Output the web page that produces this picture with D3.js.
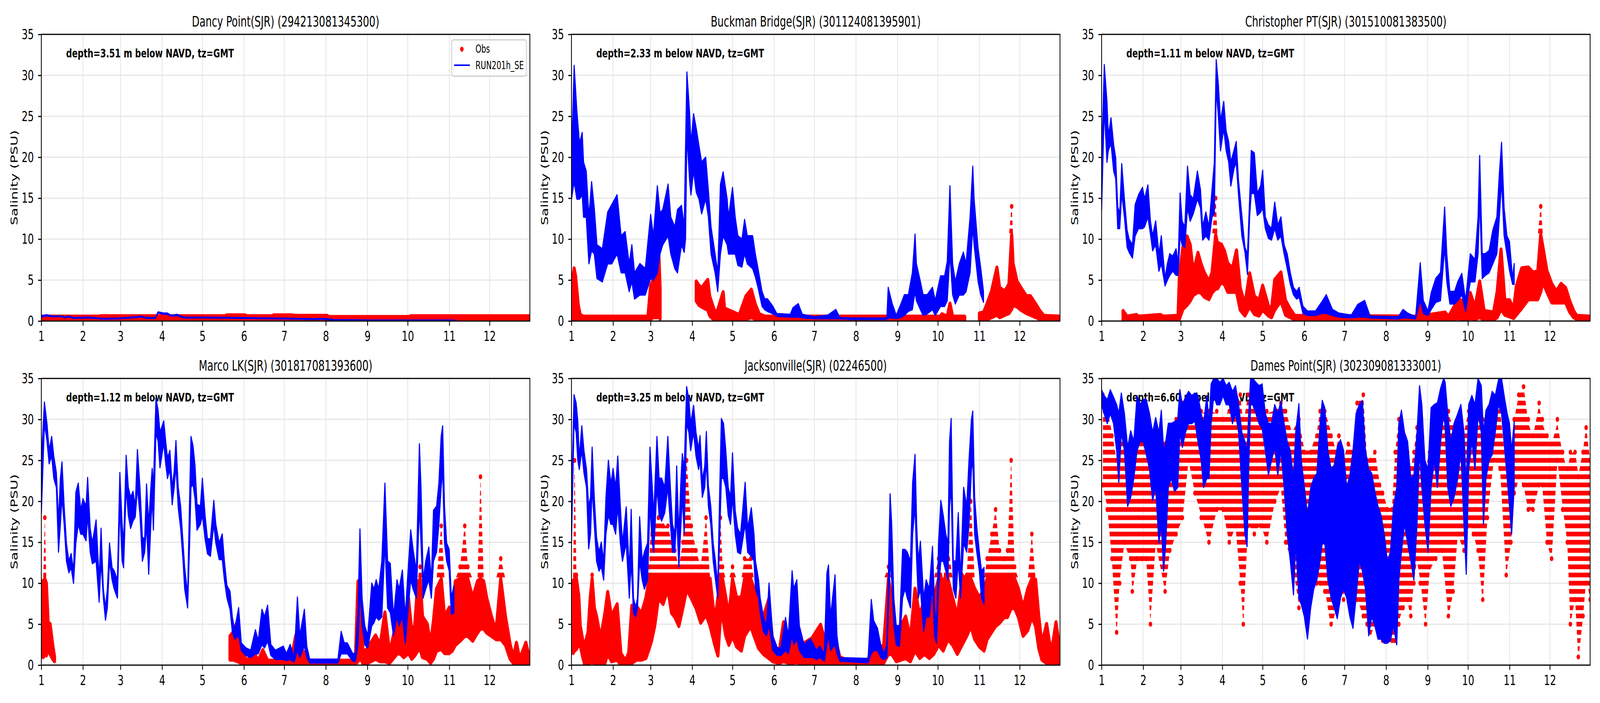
<!DOCTYPE html>
<meta charset="utf-8" />
<title>Salinity, SJR stations</title>
<script src="https://d3js.org/d3.v7.min.js"></script>
<style>
    html, body { margin: 0; padding: 0; background: #fff; overflow: hidden; }
    #chart { display: block; width: 100vw; height: 100vh; }
    text { font-family: 'DejaVu Sans', sans-serif; fill: black; }
</style>
<svg id="chart" viewBox="0 0 6000 1800" preserveAspectRatio="none"></svg>
<script>
// station titles and depths
var stationNames = ['Dancy Point(SJR) (294213081345300)', 'Buckman Bridge(SJR) (301124081395901)',
    'Christopher PT(SJR) (301510081383500)', 'Marco LK(SJR) (301817081393600)',
    'Jacksonville(SJR) (02246500)', 'Dames Point(SJR) (302309081333001)'];
var depths = ['3.51', '2.33', '1.11', '1.12', '3.25', '6.60'];
var legendLabels = ['Obs', 'RUN201h_SE'];

// x axis: day of year, ticks on the first of each month
var monthDays = [0, 31, 59, 90, 120, 151, 181, 212, 243, 273, 304, 334];
var monthLabels = ['1', '2', '3', '4', '5', '6', '7', '8', '9', '10', '11', '12'];
var yTicks = [0, 5, 10, 15, 20, 25, 30, 35];

// each row: [day, low, high] envelope, null = no data
var dancyObs = [[0,0.05,0.5],[43,0.05,0.5],[44,0.05,0.55],[137,0.05,0.55],[138,0.05,0.65],[152,0.05,0.65],[153,0.05,0.55],[172,0.05,0.55],[173,0.05,0.65],[187,0.05,0.65],[188,0.05,0.6],[213,0.05,0.6],[214,0.05,0.45],[274,0.05,0.45],[275,0.05,0.55],[364,0.05,0.55]];
var dancyModel = [[0,0.5,0.6],[4,0.65,0.75],[8,0.55,0.6],[15,0.55,0.6],[18,0.4,0.45],[20,0.55,0.6],[24,0.35,0.4],[35,0.4,0.45],[46,0.25,0.3],[58,0.3,0.35],[71,0.45,0.5],[74,0.55,0.6],[78,0.35,0.4],[85,0.35,0.4],[87,1.0,1.1],[91,0.85,0.95],[94,0.85,0.95],[97,0.6,0.65],[101,0.7,0.8],[106,0.4,0.45],[122,0.4,0.45],[147,0.35,0.4],[172,0.3,0.35],[192,0.25,0.3],[203,0.2,0.25],[210,0.25,0.3],[218,0.1,0.15],[248,0.05,0.1],[308,0.05,0.1]];

var buckmanObs = [[0,0.1,4],[2,0.1,6.4],[3,0.1,5.5],[5,0.1,2],[6.5,0.1,0.7],[9,0.1,0.5],[57,0.1,0.5],[59,0.3,4.3],[61,0.5,5],[64,0.5,9],[65,0.8,8.5],[66,0.3,4],null,[93,2.5,4.8],[95,2,4.3],[97,1.8,4],[101.5,1.4,5],[103,0.7,3],[106,0.2,1.5],[108,0.1,0.8],[113,0.2,3.5],[114,0.2,1.5],[118,0.1,1.2],[125,0.1,0.7],[130,0.3,3],[134,0.5,3.8],[137,0.3,2],[140,0.1,0.8],[144,0.1,0.5],[275,0.1,0.5],[276,0.1,0.8],[280,0.1,0.5],[282,0.2,2.1],[284,0.1,0.5],[293,0.1,0.5],null,[304,0.1,0.9],[307,0.1,1],[309,0.2,1.8],[313,0.5,3.6],[317,0.8,6.5],[319,0.5,4],[323,0.8,3.6],[326,1,4.5],[328,1.5,14.2],[329,2,7],[332,1.8,4.8],[335,1.4,4],[339,1,3],[342,0.8,3],[346,0.5,2],[349,0.3,1.2],[352,0.2,0.6],[364,0.2,0.5]];
var buckmanModel = [[0,14.9,19.9],[2,17,31.2],[4,14.9,25.7],[6,14.9,21.7],[8,15.4,23],[9,12.7,19.4],[11,12.7,18.3],[13,7,12.7],[15,8.6,17],[17,8.2,13.8],[19,5.2,9.3],[23,4.8,8.8],[27,7,13.3],[30,7,14.2],[34,8.2,15.4],[37,5.9,10.4],[40,5.9,10.9],[43,3.6,7],[45,4.8,9.3],[47,2.7,5.9],[51,3.2,7],[55,3.2,6.4],[59,5.2,13],[61,5,10.4],[64,5.9,16.5],[66,8.2,13.2],[68,9.3,13.6],[72,10.4,16.7],[74,8.2,12.7],[77,6.4,11.5],[79,5.9,13.6],[82,9.3,14.1],[84,8.4,11.5],[85,10,21.2],[86,22.8,30.4],[88,17.2,25.5],[89,15.4,21.7],[91,18.3,25.3],[93,15.7,23.5],[95,14.9,21.4],[97,13.1,19.4],[100,14.9,20],[102,12.7,16],[104,8.2,11.5],[107,5.9,8.2],[109,3.6,5.9],[111,8.2,16.7],[113,10.4,18.2],[116,9.3,14.9],[117,8.2,12.7],[120,8.2,16.3],[122,8.2,12.7],[124,6.8,10.4],[127,6.6,10],[129,8.2,12.4],[131,7,10.4],[135,6.4,10.4],[137,5.4,8.2],[139,4.1,6.4],[142,1.8,3.6],[144,1.4,2.7],[146,1.2,2.7],[150,0.9,1.8],[153,0.6,0.9],[163,0.5,0.8],[165,0.5,1.6],[169,0.5,2.1],[172,0.4,0.8],[181,0.3,0.5],[191,0.3,0.7],[197,0.3,1.4],[200,0.3,0.4],[209,0.2,0.35],[235,0.2,0.35],[236,0.4,4.1],[239,0.4,2.1],[242,0.3,0.7],[246,0.5,2.3],[248,0.7,3.2],[251,1.2,3.2],[254,1.4,5.9],[256,3.6,10.6],[257,2.5,7],[260,1.4,4.8],[262,0.7,3.2],[265,0.9,3.2],[269,1.4,4.1],[271,0.7,2.5],[275,1.8,5.5],[278,1.8,5.5],[280,2.5,7.3],[282,8.2,16.5],[284,3.2,7],[286,2.1,4.8],[289,3.2,7],[292,3.2,8.4],[294,3.6,7],[297,5.9,12.7],[299,11.5,18.9],[300,9.3,14.9],[303,4.8,8.8],[305,3.2,6.4],[307,2.3,3.6]];

var christopherObs = [[16,0.1,1.2],[19,0.1,0.5],[26,0.1,0.7],[27.5,0.1,0.5],[44,0.1,0.7],[46,0.1,0.5],[57,0.2,0.6],[58,0.3,5.5],[60.6,1.5,9],[63.7,2,10.3],[66,2.5,9.3],[68.3,3.2,5.9],[71.8,3.6,8.3],[74,3.5,7],[76.5,3,5.9],[80,2.7,4.8],[82.3,3.5,5.9],[85,4,15.1],[86.3,4,9.5],[89.3,4.8,9.3],[91.6,4.5,8.5],[94,3.6,7],[97.5,3.6,6.4],[100.5,3.6,8.6],[103.3,1.4,4],[106.8,0.7,2],[110.3,1.8,5.8],[113.8,0.9,3],[117.3,0.7,2.5],[120,1.4,4.3],[124.3,0.7,1.8],[126.6,0.5,1.4],[129,1.4,5],[133.6,2.5,5.9],[137,0.8,2.5],[140.6,0.5,1.4],[144,0.2,0.6],[235,0.2,0.5],[237.4,0.3,2.7],[239.7,0.2,0.6],[256,0.2,1],[258.5,0.2,0.5],[265.4,0.4,2.5],[267.7,0.3,2.5],[271.2,0.2,1.4],[274.7,0.4,3.4],[278.2,0.3,1.6],[281.7,0.5,4.8],[285,0.2,1.2],[292,0.2,1],[294.8,0.5,3.6],[297.6,1.5,8.7],[300.4,0.8,2.5],[304,0.6,2.5],[307,0.4,1.4],[309,0.8,4.2],[313,1.6,6.4],[318,2.7,6.5],[321.4,2.7,5.9],[325,2.7,6],[327.2,3.6,14.1],[328.8,4.8,9],[331.8,3.6,6.1],[335.4,2.3,4.5],[338.8,2.3,3.6],[342.3,2.3,4.5],[345.8,2.3,4],[348.6,1.2,2.5],[351.7,0.5,1.2],[354,0.3,0.6],[364,0.2,0.5]];
var christopherModel = [[0,13.6,19.4],[2,26,31.3],[4,19.4,26.8],[5,20.8,22.6],[7,21.7,24.8],[9,18.3,21.5],[10.5,17.4,19.9],[12,11.3,14],[13.5,11.3,13.1],[15,15.6,19.2],[17,12.7,14.9],[19,9,11.1],[20.5,8.4,10],[23,7.7,9.3],[25,10.4,14.2],[27.5,11.3,15.4],[30.5,11.3,16.3],[32,11.5,14.9],[34.5,12.7,16.6],[36.4,10.6,12.2],[38,8.6,10.4],[40.3,9.3,12.2],[42.7,6.1,8.2],[44.5,7,10.4],[47.3,4.3,5.2],[49,5,7],[50.8,5.6,8.2],[53,6.1,7.9],[55.5,5.6,8.8],[57,5.6,7],[58.5,10.4,15.6],[60,9.3,12.2],[62,9,11.5],[64,13.8,18.9],[66,12.2,15.4],[68.3,13.1,14.9],[71.4,14.9,18.3],[73.7,13.8,16],[75.3,9.9,11.5],[77.7,10.4,13.3],[80,9.9,11.5],[82.3,12.7,16.1],[84,13.1,19.4],[85.4,28.4,31.9],[87,25,28.9],[88.6,20.8,24.4],[91,23.5,26.8],[92.8,20.8,23.2],[94.7,19.4,21.9],[96.3,16.5,19.4],[98.6,18.6,20.8],[100.3,19.4,21.9],[102,15.4,17.2],[104.5,10.4,12.9],[106.8,8.4,9],[108.7,5.7,8.2],[110.3,12.7,14.9],[111.5,15.6,20.8],[113.8,15.6,20.5],[116,12.9,15.6],[118.5,13.3,16.5],[120,13.8,18.4],[122,11.3,12.7],[124.3,10.1,11.7],[126.6,9.9,11.3],[129,11.3,14.5],[131.3,9.9,11.7],[133.6,10.4,12.7],[136,8.2,9.3],[138.3,6.4,8.2],[140.6,4.5,5.9],[143,3.2,4.1],[145.3,2.7,3.6],[147.2,2.9,4.1],[150,0.95,1.8],[153.4,0.7,1.2],[159.3,0.7,1.2],[164,0.95,2.3],[167.4,0.95,3.2],[172,0.7,1.4],[176.8,0.5,0.95],[186,0.4,0.7],[190.8,0.5,2],[196,0.5,2.5],[200,0.4,0.6],[221,0.27,0.5],[224.6,0.4,1.4],[228,0.4,0.95],[234,0.27,0.5],[237.4,2.5,7.1],[239.7,0.95,2.5],[243.2,0.7,1.2],[245.5,1.4,3.4],[249,2.3,5.2],[252.5,2.5,5.9],[255.6,9,13.9],[257.2,4.8,8.2],[259.5,2.1,3.6],[263,2.1,3.6],[265.4,2.5,4.8],[268.4,3.2,5.8],[271.2,1.2,2.5],[274.7,4.8,8.2],[278.2,4.8,7.5],[280.5,8.2,12.7],[281.7,14.9,20.2],[283.6,5.2,8.2],[285.9,5.6,8.2],[288.7,5.9,8.6],[291.5,7,11.1],[294.5,8.2,12.7],[296.4,12.7,18.1],[298,17.2,21.8],[299.9,10.4,13.8],[302,8.2,10.4],[303.9,6.2,9.7],[306.2,4.5,5.2],[307.4,4.5,7]];

var marcoObs = [[0,1.4,10.2],[1.4,1,10.2],[2.6,1.4,18],[3.7,1.2,10],[5.1,2,5],[6.5,1.4,5],[8.4,0.8,2.5],[9.8,0.5,1],null,[140.6,0.7,3.5],[143,0.7,4],[146.3,0.5,5.4],[148.8,0.3,1.5],[153.4,0.2,0.5],[158,0.2,1.6],[161.6,0.2,0.5],[165,0.2,1.8],[168.6,0.2,0.5],[186,0.2,0.5],[189.6,0.3,3.6],[192.6,0.2,0.8],[195.4,0.2,1.6],[199,0.2,0.5],[234,0.2,0.5],[236,0.5,10.2],[237.4,1,8.3],[239.7,0.2,1.5],[243,0.3,2],[245.5,0.5,2.7],[249,0.8,3.6],[252.5,0.5,2.5],[256,0.5,6.4],[259.5,0.3,1.4],[263,1,4.1],[265.4,1.5,6.6],[267.7,1.4,6.4],[270,1,4.8],[273.5,1.5,8.2],[276,0.8,4.1],[278.2,1.2,4.8],[280.5,1.8,10],[282.2,2,12.2],[284,1,5.9],[287.5,0.8,5],[290,0.3,2.5],[292.2,0.8,5.4],[294.5,1.8,9.3],[298,2,17.2],[300.4,1.5,5.9],[304,1.5,7],[306.2,1.8,5.9],[308.5,2.5,10.2],[312,3,12],[315.5,3.6,17.2],[317.8,3.6,12],[321.4,3,8.2],[325,4,10.2],[327.2,4.5,23],[329.6,4.5,10.2],[331.8,4,8.2],[335.4,3.6,5.9],[338.8,3.2,4.1],[342.3,3.2,13],[345.8,2.5,5.9],[349.3,0.8,2.5],[351.7,0.3,0.95],[354,0.3,2.7],[356.4,0.2,0.7],[361,0.2,2.7],[364,0.2,0.7]];
var marcoModel = [[0,18.5,25],[2.3,29.5,32.1],[4.2,27.4,29.5],[5.8,24.6,26.2],[7.7,25.5,27.9],[9.3,22.8,25.5],[11.2,21.7,23.5],[12.8,13.8,17.6],[14.2,17.2,22.8],[15.4,20.5,24.8],[17,17.2,19.4],[18.7,12.7,14.9],[20.5,11.3,12.7],[22.2,11.9,13.6],[24,10,11.5],[25.7,14.9,21.1],[27.5,17.2,22.2],[29.4,16,18.9],[31,16,20.3],[33.3,15.2,19.4],[34.5,18.3,22.9],[36.4,13.8,16.7],[38,12.4,14.9],[40.8,12.7,17.7],[43.1,7.7,10.4],[44.5,12.7,16.7],[46.2,8.2,9.3],[47.8,5.5,7],[49.2,7,9.3],[50.8,12.7,14.9],[52.7,10.4,11.9],[54.3,9.3,11.5],[56.7,8.2,10.4],[58.5,19.4,23.5],[60.2,12.7,17.2],[61.3,11.9,14.9],[63.2,21.7,25.6],[64.8,18.3,21.7],[66.5,16.7,20.5],[68.3,17.6,21.2],[70,18.1,19.4],[71.6,21.7,26.3],[73.5,18.3,21.7],[75.3,12.7,15.6],[77,13.8,15.4],[78.4,17.2,22.1],[80,11.1,17.2],[81.6,17.2,21.7],[82.6,20.5,24],[83.5,16.5,21.7],[85.4,28.4,32.6],[87,27.3,31.1],[88.4,24.1,28.4],[91.2,27.1,29.8],[92.8,24.4,27.1],[94,22.8,25.3],[95.8,23.9,26.2],[97.5,19.6,21.7],[99,21.7,23.7],[100.3,24.4,27.4],[102,19.2,21.7],[103.8,16.7,19.4],[105.6,12.7,14.9],[106.8,9.3,11.9],[109,7,8.6],[110.5,14.9,20.5],[111.5,21.7,27.9],[113,22.1,26.8],[114.5,20.3,24.4],[116,16.5,19.6],[118.5,17.2,19.4],[120,18.3,22.8],[122,15.4,18.3],[123.8,13.6,15.4],[126,13.3,15.4],[128.5,17.2,20.1],[130,14.9,17.2],[132.5,12.9,14.9],[134.8,12.9,16],[136.4,10.4,12.7],[138.3,8.2,9.7],[140.6,6.8,9],[142.3,4.1,5.9],[144,3.2,4.3],[147,3.6,7],[149,1.8,2.7],[152.3,1.2,2.1],[156,0.95,1.8],[159.5,1.4,4.3],[161.6,1.4,3],[164.4,2.5,6.8],[166.3,2.1,5.9],[168.6,2.9,7.3],[171,1.2,2.5],[174.4,0.7,1.8],[178,0.7,2.1],[180.3,0.7,2.3],[182.6,0.6,1.4],[185.4,0.7,2.5],[188.4,0.4,0.95],[190.8,1.8,8.3],[192.6,0.95,3.6],[196,2.3,6.8],[197.8,0.95,2.3],[200,0.27,0.7],[221,0.27,0.7],[223.4,1.4,4.1],[225.7,1.4,2.7],[228,1.4,2.7],[232,0.5,1.4],[234,0.5,1.4],[236,2.5,7],[237.4,9.3,16.6],[239,4.8,8.2],[241,2.5,4.8],[243.2,2.1,3.6],[246.2,4.8,10],[247.9,5.2,9.3],[249.5,5.9,10.4],[251.4,5.5,9.3],[253.7,5.9,12.7],[256,14.9,22.2],[258,7,12.7],[260,6.4,12.4],[262.4,3.6,5.9],[265,5.9,10.4],[266.6,4.8,9.3],[269,5.9,11.6],[271.2,2.7,5.9],[272.8,5.9,10.4],[275.2,10.4,16.5],[277,9.3,14.1],[279.4,8.2,11.5],[281.7,19.4,27],[282.9,14.9,21.7],[284.5,8.2,10.4],[286.4,9.3,12.7],[288.7,10.4,14.4],[290.6,8.2,10.4],[292.2,12.7,18.9],[294.5,13.8,19.4],[296.2,17.2,22.2],[297.9,21.7,27.9],[299,23.9,29.2],[300.4,14.9,19.4],[302,12.7,14.9],[303.9,11.5,14.1],[305.5,6.2,8.2],[307.4,6.4,9.7]];

var jaxObs = [[0,2,10.2],[1.2,1.5,10.2],[2.3,1.8,25],[3.7,2,11],[5.4,2.5,8.5],[6.5,2.5,4.8],[8.4,1,3],[10,0.05,2.5],[12.4,0.1,4],[14,0.3,8.2],[15.4,0.5,11],[17,0.2,7],[18.7,0.1,5.9],[21.7,0.1,3.2],[25,0.3,6.4],[27,1.4,8.9],[29.8,0.5,5.9],[34,0.7,7.4],[36.8,0.05,1.4],[40.3,0.05,0.5],[42.7,0.1,1.5],[45,0.3,7.2],[48.5,0.7,7.2],[52,0.7,6.2],[55.5,0.9,8.2],[57.8,2,12],[59.7,3,19],[62,4.8,17],[64.8,8.2,18],[68.3,7.5,17],[71.8,9.3,17],[74.6,6.4,15],[77,5.9,14],[80,4.8,12],[83,7,15],[85.8,9.3,25],[89.3,8.2,17],[92.8,7,14],[96.3,5.2,12],[100.3,6.2,18],[103.3,4.8,10.5],[106.8,2.5,5.2],[109.1,1.2,8.2],[111,5.9,18],[112.6,5.9,12],[115,3.6,8.2],[117.3,2.5,5.9],[120,3.6,12],[123,2.3,8.2],[126.6,1.8,8.2],[129,3.6,13],[133.6,4.8,13],[136,3.6,9.3],[139.4,2.1,7],[143,1.4,5.9],[147,0.9,8],[150,0.5,2.5],[154.6,0.3,1.4],[158,0.5,5.2],[162.8,0.3,2.5],[167.4,0.4,3.6],[172,0.3,2.5],[179,0.3,3.2],[185.6,0.3,4.9],[189.6,0.3,2.5],[193,0.3,3.6],[196.6,0.3,3.2],[200,0.2,0.9],[204.7,0.2,0.6],[221,0.2,0.6],[223.4,0.3,1.8],[228,0.3,1.4],[232.7,0.3,2.5],[236.2,1.4,12],[238.6,1.4,8.2],[242,0.5,3.6],[245.5,0.7,4.8],[249,0.9,5.9],[252.5,0.5,3.2],[256,1.8,9.3],[259.5,0.9,5.9],[263,1.4,8.2],[266.6,0.9,5.9],[270,1.4,8.2],[273.5,2.5,13],[277,1.8,10.4],[280.5,3.2,15],[284,2.5,8.2],[287.5,1.4,5.9],[291,2.5,11],[294.5,3.6,11],[297.6,4.8,20],[300.4,3.2,9.3],[304,2.3,8.2],[307.4,1.8,9.3],[309.7,3.2,13],[313.2,4.1,16],[316,4.8,19],[319,5.2,14],[322.5,5.9,13],[324.9,5.9,14],[327.6,7,25],[330.2,7,12],[333,5.9,9.3],[336.5,3.6,7],[340,4.3,9.3],[343,5.9,16],[345.8,4.8,10.4],[348.2,2.1,5.9],[350.5,0.7,2.5],[354,0.3,5],[357.5,0.2,1.4],[361,0.3,5.2],[364,0.2,1.8]];
var jaxModel = [[0,14.9,19.9],[1.9,29.5,33],[3.5,28.4,32],[4.7,25,29.8],[5.8,23.9,25.3],[7.7,26.2,29.2],[9.3,23.5,26.2],[11.2,21.7,23.9],[12.8,14.2,19.4],[14.2,16,20.5],[15.4,21.7,26.6],[17,17.2,20.5],[18.7,12.7,15.6],[20.5,11.5,13.8],[22.2,12,15],[24,10.4,12.7],[25.7,16,20.5],[27.5,18.3,25],[29.4,17.2,22.1],[31,17.2,24],[32.9,16,21.7],[34.5,19.4,25.5],[36.4,14.9,19.4],[38,12.7,14.9],[40.8,14.9,19.3],[43.1,8.2,11.5],[44.5,12.7,19],[46.2,6.4,8.2],[47.8,5.9,7],[49.2,7,8.2],[50.8,12.7,18.1],[52.7,10.4,12.7],[54.3,9.3,13.8],[56.7,10.4,14.9],[58.5,19.4,26.6],[60.2,14.9,21.7],[61.3,13.8,18.3],[63.7,21.7,27.9],[65.3,18.3,22.8],[67.2,17.6,22.8],[69.5,18.6,21.7],[71.8,21.7,27.9],[73.7,17.2,21.7],[75.3,13.8,17.2],[77,13.8,16],[78.4,18.3,24.3],[80,12,16],[81.6,17.2,22.8],[82.6,20.5,25.8],[84,16,23.9],[85.8,29.5,34],[87.5,28.4,32.4],[88.8,26.2,29.5],[91,28.4,31.7],[92.8,25.5,28.4],[94.7,23.9,26.4],[95.8,25,28],[97.5,20.5,22.6],[99.3,21.7,24.3],[100.5,25,28.5],[102,19.4,21.9],[103.8,17.2,19.4],[105.6,12.7,14.9],[107.3,10.4,12.7],[109,8.2,9.7],[110.5,16,21.7],[111.7,22.8,30.1],[113.3,22.8,29.5],[115,21.7,26.2],[116.8,18.3,21.7],[118.5,17.2,20.5],[120,20.5,25.9],[122,16,18.9],[123.8,13.8,16.7],[126,13.6,16],[129.4,17.2,22.3],[131.3,13.8,16.7],[134,13.3,19.2],[136,12.7,16],[137.1,9.3,12.7],[139.4,8.2,10.4],[140.6,6.4,8.2],[143,4.1,5.9],[145.3,3.6,4.8],[147.2,4.8,10],[150,1.8,3.6],[153.4,1.2,2.1],[156,1.2,2.1],[159.5,1.8,5.8],[161.6,1.4,3.6],[164.4,3.6,11.5],[165.6,2.5,9.3],[167.9,3.2,10.4],[169.8,1.8,4.8],[173.3,0.95,2.5],[178,0.95,3.2],[180.3,0.95,2.5],[182.6,0.7,1.8],[185,0.95,2.3],[188.4,0.5,1.4],[190.3,2.5,11.2],[191.5,3.6,12.2],[193,1.8,5.9],[196.4,2.5,11],[197.8,1.4,3.6],[200,0.5,0.9],[221,0.3,0.8],[223.4,1.4,8],[225.2,1.8,5.4],[228,1.8,4.5],[230.4,0.95,2.5],[232.7,0.7,1.4],[235,0.95,2.5],[237.4,12.7,20.9],[238.6,10.4,17.2],[240.2,4.8,8.2],[242,2.5,4.8],[244.4,2.3,4.8],[246.7,8.2,14.1],[248.6,9.3,14.1],[250.2,8.2,13.8],[252.6,7,12.7],[254.2,16,22.3],[256,19.4,25.7],[257.2,12.7,17.2],[258.4,8.2,12.7],[260,9.3,15.1],[262.4,4.1,8.2],[264.3,5.9,10.4],[266.6,5.9,9.3],[269,9.3,14.5],[270.6,3.6,7],[272,2.7,4.8],[273.5,9.3,14.9],[275.2,12.7,20.1],[277,12.7,18.3],[278.9,11.5,16],[280.5,10.4,14.9],[281.7,19.4,27.3],[282.9,21.7,30.1],[284.5,9.3,12.7],[286.4,8.2,12.7],[288.2,12.7,18.6],[289.9,8.2,10.4],[292.2,14.9,21.7],[294.5,13.8,19.4],[296.2,17.2,25],[298,23.9,30],[299,25,31],[300.4,16,20.5],[302,13.8,16.9],[303.9,11.5,13.8],[305.5,8.2,11.5],[307.4,7.5,11.9]];

var damesObs = [[1,21.7,32.9],[4.2,19.4,31.1],[7.7,12.7,28.4],[11.2,3.9,25],[13.5,10.4,29.1],[17,14.9,26.2],[21.7,12.7,27.3],[22.9,8.9,26],[26.4,12.7,28.4],[29.9,12.7,28.4],[33.3,12.7,27.3],[36.4,5.4,22.8],[40.3,14.9,26.2],[47.3,9,27.3],[50.8,13.8,28.4],[55.5,16,29.5],[60.2,17.8,31.8],[64.8,25,30.7],[69.5,21,29.5],[74.2,18.3,30.7],[80,14.9,31.1],[85.8,18.9,30.7],[90.5,18.9,30.2],[95.1,14.9,31.1],[99.8,16.9,31.1],[103.3,10.4,32.9],[105.6,5,29.5],[109.1,17.2,32.9],[113.8,16,31.1],[118.5,17.2,29.1],[123.1,14.9,30.7],[129,19.9,31.1],[133.6,21.7,32],[137.1,14.9,31.1],[141.8,12.7,28.4],[147,7.4,30],[151.1,8.2,26.2],[155.8,10.4,26.2],[160.4,10.4,28.4],[162.8,9.7,31.1],[166.3,9.3,31.1],[171,4.5,28.4],[174.4,6.6,26.2],[176.8,9.3,27.9],[180.3,8.2,25],[183.8,10.4,27.3],[187.3,10.4,26.2],[190.3,8.2,32],[195,5.9,32.9],[197.8,4.8,25],[200.1,3.6,25],[203.6,4.8,26.2],[207.1,3.6,22.3],[209.4,3.2,21.2],[212.9,2.7,19.2],[216.4,2.9,19.2],[218.7,2.5,26],[221.5,5.4,30],[224.6,7,26.2],[228,7.7,26.2],[230.4,5.7,23.9],[232.7,10.4,26.2],[235,12.7,29.1],[237.4,10.4,28.4],[241.4,5,23.9],[244.4,11.5,26.2],[249,13.1,28.4],[253.7,13.8,30.7],[258.4,5.9,30.7],[261.9,8.8,29.1],[265.4,16,29.1],[270,13.8,28.4],[273.5,17.2,31.1],[277,16,30],[280.5,13.8,31.1],[284,7.5,30],[287.5,18.3,29.5],[292.2,25,31.1],[296.9,23.9,31.1],[301.5,11,23.9],[305,14.9,23.9],[307.4,20.5,30],[310.8,22.8,32.9],[314.4,21.9,34.1],[317.9,18.9,29.5],[321.4,18.9,27.9],[326,21.9,31.8],[328.4,21.7,29.5],[331.9,14.9,27.9],[335.3,12.9,27],[339.6,25,29.5],[343.5,19.4,25.7],[347,14.9,23.9],[349.3,5,25.7],[352.8,8.2,26.2],[355.2,0.5,23.1],[358.7,5.9,26.2],[361,10.4,29.1],[364,8.2,25]];
var damesModel = [[0,31.8,33.6],[1.9,30.7,32.9],[4.2,29.5,32.4],[6.5,30.7,33.6],[8.9,29.5,32.7],[11.2,26.2,31.8],[12.8,22.3,30.7],[14.7,28.4,33.2],[17,26.2,30.7],[19.4,19.4,26.6],[21.7,20.5,28.6],[24,22.8,27.3],[26.4,26.2,32.9],[28.7,27.3,31.8],[31,27.3,32.4],[33.3,25.7,32.4],[35.7,23.9,30.7],[38,20.1,28.4],[40.3,21.7,30.2],[42.7,14.9,28.4],[44.5,17.2,31.1],[46.2,11.5,26.2],[47.8,14.9,27.3],[49.7,21.7,29.5],[52,22.8,29.5],[54.3,21.2,29.7],[56.7,21.7,30],[58.3,28.4,33.6],[60.2,26.6,31.8],[62.5,28.4,32.7],[64.8,29.5,33.4],[67.2,29.5,32.9],[69.5,29.8,33.2],[71.8,27.3,32.9],[74.2,25,30.7],[76,21.7,29.5],[78.4,22.8,32.9],[80,22.8,29.5],[81.6,29.5,34.3],[83.5,32.9,35],[85.8,31.8,35],[88.1,31.8,34.5],[90.5,32.9,35],[92.8,31.8,34.1],[95.1,31.8,34.5],[97.5,29.5,33.4],[99.8,30.7,34.1],[102.1,28.4,31.8],[104.5,21.7,28.4],[106.8,16,27.3],[108.4,14.5,26.2],[109.6,23.9,30.7],[111,31.8,35],[112.6,31.8,35],[115,30.7,34.5],[117.3,29.5,34.1],[119.6,28.9,34.3],[122,26.2,30.7],[124.3,23.2,29.5],[126.6,25,29.5],[129,26.6,31.8],[131.3,23.2,30.7],[133.6,26.2,32.2],[136,21.7,29.5],[138.3,16,27.3],[140.6,12.7,26.2],[143,8.6,22.8],[144.6,14.9,28.4],[147,8.2,31.9],[148.8,7.4,25],[151.1,5.9,21.7],[153.4,3.2,18.3],[155.8,7,21.7],[158.1,9.3,22.8],[160.4,10.4,23.4],[162.8,12.7,29.5],[164.4,14.9,32.3],[166.3,14.9,31.4],[168.6,10.4,26.2],[171,8.2,23.9],[173.3,7,24.4],[175.6,5.7,26.6],[178,8.2,27.5],[180.3,9.3,26.2],[182.6,8.2,21.7],[185,5.9,23.2],[187.3,4.5,26.2],[189.6,8.2,30.7],[192,12.7,31.8],[194.3,11.5,32.3],[196.6,9.3,26.2],[199,3.6,23.9],[201.3,5.9,23.4],[203.6,4.8,21.2],[205.9,3.2,19.4],[208.2,3.2,18.3],[210.6,2.7,16],[212.9,2.7,12.7],[215.2,3,13.8],[217.5,4.8,19.4],[219.9,2.5,21.7],[221.5,10.4,29.5],[223.4,13.8,31.1],[225.7,17.2,28.4],[228,14.9,27.3],[230.4,12.7,22.8],[232.7,10.4,23.2],[235,17.2,28.4],[236.9,26.2,34.1],[238.6,21.7,31.8],[240.9,17.2,25],[243.2,13.8,23.9],[245.5,21.7,31.4],[247.9,25,31.8],[250.2,21.7,32],[252.6,27.3,33.8],[254.9,30.7,35],[256,29,34.5],[257.9,21.7,30.7],[260.2,19.4,27.3],[262.6,20.5,29.5],[265.4,22.8,30.7],[267.7,26.2,31.8],[270,17.2,28.4],[271.7,11.1,21.7],[273.5,23.9,31.8],[275.9,27.3,32.9],[278.2,23.9,31.8],[280.5,30.7,35],[282.9,28.4,34.1],[284.5,17.2,28.4],[286.4,22.8,31.1],[288.7,25,31.8],[291,25.7,33.4],[293.3,28.4,32.9],[295.7,31.8,34.8],[298,30.7,35],[300.4,26.2,32.4],[302.2,22.8,30.7],[303.9,19.4,29.5],[305.5,16,26.2],[307.4,21.7,29.7]];

var obsSeries = [dancyObs, buckmanObs, christopherObs, marcoObs, jaxObs, damesObs];
var modelSeries = [dancyModel, buckmanModel, christopherModel, marcoModel, jaxModel, damesModel];
// above this salinity the gauge reports whole PSU, drawn as rows of dots
var stepAbove = [10.5, 10.5, 10.5, 10.5, 10.5, 0];

var width = 1832,
    height = 734;
var x = d3.scaleLinear().domain([0, 364]).range([0, width]);
var y = d3.scaleLinear().domain([0, 35]).range([height, 0]);

var svg = d3.select('#chart');
var defs = svg.append('defs');
defs.append('clipPath').attr('id', 'plotclip')
    .append('rect').attr('width', width).attr('height', height);

// rows of obs dots, one row per whole PSU
var rowH = y(0) - y(1);
var pat = defs.append('pattern').attr('id', 'obsrows')
    .attr('patternUnits', 'userSpaceOnUse')
    .attr('width', 20).attr('height', rowH);
pat.append('rect').attr('x', 0).attr('y', 0).attr('width', 20).attr('height', 6).style('fill', '#ff0000');
pat.append('rect').attr('x', 0).attr('y', rowH - 6).attr('width', 20).attr('height', 6).style('fill', '#ff0000');

stationNames.forEach(function(name, i) {
    var col = i % 3,
        row = Math.floor(i / 3);
    var left = 155 + col * 1988,
        top = 88 + row * 881;
    var g = svg.append('g').attr('transform', 'translate(' + left + ',' + top + ')');

    // grid
    g.selectAll('.vgrid').data(monthDays).enter().append('line')
        .attr('x1', function(d) { return x(d); }).attr('x2', function(d) { return x(d); })
        .attr('y1', 0).attr('y2', height)
        .style('stroke', '#e6e6e6').style('stroke-width', 3);
    g.selectAll('.hgrid').data(yTicks).enter().append('line')
        .attr('x1', 0).attr('x2', width)
        .attr('y1', function(d) { return y(d); }).attr('y2', function(d) { return y(d); })
        .style('stroke', '#e6e6e6').style('stroke-width', 3);

    g.append('text')
        .attr('x', 93).attr('y', 59)
        .style('font-size', '31px').style('font-weight', 'bold')
        .text('depth=' + depths[i] + ' m below NAVD, tz=GMT');

    var plot = g.append('g').attr('clip-path', 'url(#plotclip)');
    var thr = stepAbove[i];
    var obs = obsSeries[i];

    if (thr > 0) {
        var solid = d3.area()
            .defined(function(d) { return d !== null; })
            .x(function(d) { return x(d[0]); })
            .y0(function(d) { return y(Math.min(d[1], thr)); })
            .y1(function(d) { return y(Math.min(d[2], thr)); });
        plot.append('path').datum(obs).attr('d', solid)
            .style('fill', '#ff0000').style('stroke', '#ff0000')
            .style('stroke-width', 12).style('stroke-linejoin', 'round');
    }
    var rows = d3.area()
        .defined(function(d) { return d !== null; })
        .x(function(d) { return x(d[0]); })
        .y0(function(d) { return y(Math.min(Math.max(d[1], thr), Math.max(d[2], thr))); })
        .y1(function(d) { return y(Math.max(d[2], thr)); });
    plot.append('path').datum(obs).attr('d', rows).style('fill', 'url(#obsrows)');

    var dots = [];
    obs.forEach(function(d) {
        if (d === null) return;
        if (d[2] > thr) dots.push([d[0], d[2]]);
        if (d[1] > thr) dots.push([d[0], d[1]]);
    });
    plot.selectAll('.obsdot').data(dots).enter().append('circle')
        .attr('cx', function(d) { return x(d[0]); })
        .attr('cy', function(d) { return y(Math.round(d[1])); })
        .attr('r', 6.5)
        .style('fill', '#ff0000');

    var band = d3.area()
        .x(function(d) { return x(d[0]); })
        .y0(function(d) { return y(d[1]); })
        .y1(function(d) { return y(d[2]); });
    plot.append('path').datum(modelSeries[i]).attr('d', band)
        .style('fill', '#0000ff').style('stroke', '#0000ff')
        .style('stroke-width', 4).style('stroke-linejoin', 'round');

    // axes
    var xAxis = g.append('g').attr('transform', 'translate(0,' + height + ')')
        .call(d3.axisBottom(x).tickValues(monthDays)
            .tickFormat(function(d, k) { return monthLabels[k]; })
            .tickSize(12).tickPadding(13));
    var yAxis = g.append('g')
        .call(d3.axisLeft(y).tickValues(yTicks).tickSize(12).tickPadding(16));
    [xAxis, yAxis].forEach(function(a) {
        a.select('.domain').remove();
        a.selectAll('line').style('stroke', 'black').style('stroke-width', 3);
        a.selectAll('text').style('font-size', '36px').style('font-family', "'DejaVu Sans', sans-serif").attr('fill', 'black');
    });

    g.append('rect').attr('width', width).attr('height', height)
        .style('fill', 'none').style('stroke', 'black').style('stroke-width', 3);

    g.append('text')
        .attr('x', width / 2).attr('y', -20)
        .attr('text-anchor', 'middle')
        .style('font-size', '37px')
        .text(name);

    g.append('text')
        .attr('transform', 'translate(-101,' + (height / 2) + ') rotate(-90)')
        .attr('text-anchor', 'middle').attr('dy', '0.35em')
        .style('font-size', '36px')
        .text('Salinity (PSU)');

    if (i === 0) {
        var lg = g.append('g').attr('transform', 'translate(' + (width - 293) + ',14)');
        lg.append('rect').attr('width', 280).attr('height', 93).attr('rx', 7)
            .style('fill', 'white').style('fill-opacity', 0.8)
            .style('stroke', '#cccccc').style('stroke-width', 3);
        lg.append('circle').attr('cx', 38).attr('cy', 24).attr('r', 6.5).style('fill', '#ff0000');
        lg.append('line').attr('x1', 9).attr('x2', 68).attr('y1', 65).attr('y2', 65)
            .style('stroke', '#0000ff').style('stroke-width', 4);
        lg.selectAll('.lab').data(legendLabels).enter().append('text')
            .attr('x', 89)
            .attr('y', function(d, k) { return 33 + k * 42; })
            .style('font-size', '28px')
            .text(function(d) { return d; });
    }
});
</script>
